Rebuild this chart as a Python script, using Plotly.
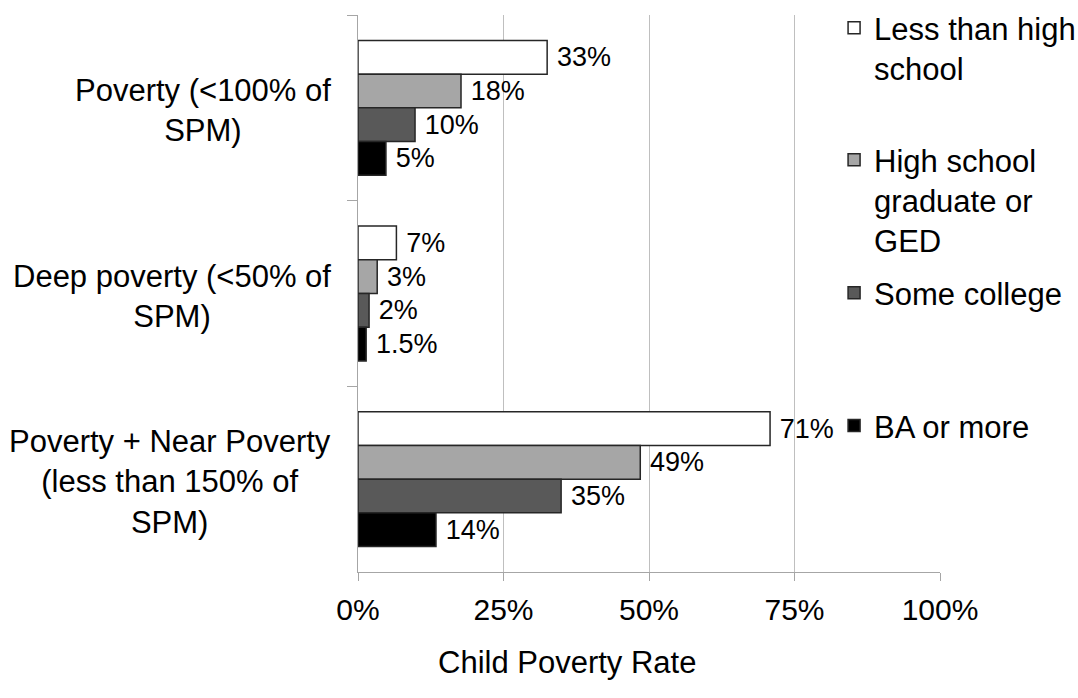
import plotly.graph_objects as go

categories = ["Poverty (<100% of<br>SPM)",
              "Deep poverty (<50% of<br>SPM)",
              "Poverty + Near Poverty<br>(less than 150% of<br>SPM)"]
series_names = ["Less than high<br>school", "High school<br>graduate or<br>GED",
                "Some college", "BA or more"]
values = [
    [32.5, 6.6, 70.8],
    [17.7, 3.3, 48.5],
    [9.8, 1.9, 34.9],
    [4.8, 1.4, 13.4],
]
labels = [
    ["33%", "7%", "71%"],
    ["18%", "3%", "49%"],
    ["10%", "2%", "35%"],
    ["5%", "1.5%", "14%"],
]
x_ticks = [0, 25, 50, 75, 100]
x_ticktext = ["0%", "25%", "50%", "75%", "100%"]

colors = ["#ffffff", "#a6a6a6", "#595959", "#000000"]
FONT = "Liberation Sans, Arial, sans-serif"

fig = go.Figure()
legend_ids = ["legend", "legend2", "legend3", "legend4"]
for i, name in enumerate(series_names):
    fig.add_trace(go.Bar(
        y=categories, x=values[i], name=name, orientation="h",
        marker=dict(color=colors[i], line=dict(color="#262626", width=1.5)),
        text=labels[i], texttemplate="\u2005%{text}", textposition="outside",
        cliponaxis=False, constraintext="none",
        textfont=dict(size=27, color="#000000", family=FONT),
        legend=legend_ids[i],
    ))

leg_common = dict(font=dict(size=31, family=FONT, color="#000000"),
                  bgcolor="rgba(0,0,0,0)", x=0.818, xanchor="left",
                  yanchor="top", valign="top", borderwidth=0)
fig.update_layout(
    barmode="group", bargap=0.274, bargroupgap=0,
    width=1078, height=698,
    margin=dict(l=358, r=138, t=15, b=126, autoexpand=False),
    paper_bgcolor="white", plot_bgcolor="white",
    font=dict(family=FONT, size=28, color="#000000"),
    legend=dict(y=1.025, **leg_common),
    legend2=dict(y=0.788, **leg_common),
    legend3=dict(y=0.549, **leg_common),
    legend4=dict(y=0.311, **leg_common),
    xaxis=dict(range=[0, 100], tickvals=x_ticks, ticktext=x_ticktext,
               showgrid=True, gridcolor="#bfbfbf", gridwidth=1,
               showline=True, linecolor="#a6a6a6", linewidth=1,
               ticks="outside", ticklen=8, tickcolor="#a6a6a6",
               ticklabelstandoff=3,
               tickfont=dict(size=30, family=FONT, color="#000000"),
               zeroline=False),
    yaxis=dict(autorange="reversed", showticklabels=False,
               showline=True, linecolor="#a6a6a6", linewidth=1,
               ticks="outside", ticklen=10, tickcolor="#a6a6a6",
               tickson="boundaries", showgrid=False),
    showlegend=True,
)
for i, c in enumerate(categories):
    fig.add_annotation(x=-0.043, xref="paper", y=c, yref="y", text=c,
                       showarrow=False, xanchor="right", align="center",
                       yshift=-3,
                       font=dict(size=31, family=FONT, color="#000000"))
fig.add_annotation(x=0.359, xref="paper", y=-0.163, yref="paper",
                   text="Child Poverty Rate", showarrow=False,
                   xanchor="center", yanchor="middle",
                   font=dict(size=31, family=FONT, color="#000000"))
fig.add_shape(type="rect", xref="paper", yref="paper", x0=0.815, x1=1.05,
              y0=0.075, y1=1.05, fillcolor="white", line=dict(width=0),
              layer="between")
fig.write_html("out.html", config={"displayModeBar": False},
               post_script="document.body.style.margin='0px';")
